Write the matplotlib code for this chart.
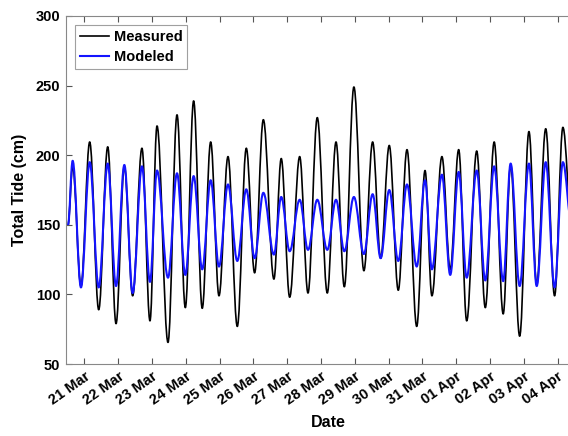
import matplotlib
matplotlib.use("Agg")
import matplotlib.pyplot as plt
import matplotlib.dates as mdates
import matplotlib.transforms as mtransforms
from matplotlib.path import Path
from matplotlib.patches import PathPatch
from matplotlib.lines import Line2D
import pandas as pd
import numpy as np

# Times of extrema (hours from 21 Mar 00:00)
time_h = [-11.7, -8.4, -2.5, 3.7, 10.1, 16.5, 22.4, 28.3, 34.2, 40.8, 46.5,
          51.5, 59.3, 65.7, 71.6, 77.5, 83.6, 89.6, 95.5, 101.9, 108.5,
          114.9, 120.8, 127.0, 134.5, 139.7, 145.7, 152.8, 158.7, 165.3, 172.4,
          178.6, 184.5, 191.3, 198.4, 204.6, 210.3, 216.4, 222.8, 229.0, 235.9,
          241.8, 246.7, 253.8, 259.7, 265.7, 271.4, 278.5, 284.6, 290.9, 297.3,
          302.6, 309.0, 315.6, 321.1, 327.5, 333.8, 339.7, 346.0]

measured = [150, 192, 106, 209.5, 89, 206, 79, 192, 99, 205, 81,
            221, 65.5, 229, 90.5, 239, 90, 209.5, 99, 199, 77,
            205, 115.5, 225.5, 111, 197.6, 98, 199, 101, 227, 101,
            209.5, 105.5, 249, 117, 209.5, 126, 207, 103, 204, 77,
            189, 99, 199, 118, 204, 81, 203, 90.5, 209.5, 86,
            193, 70, 217, 107, 219, 99, 220, 150]

modeled = [150, 196, 105, 195, 105, 194, 106, 193, 101, 192, 109,
           189, 112, 187, 114, 185, 118, 182, 120, 179, 124,
           175.5, 126, 173, 128.6, 170, 131, 168, 132, 168, 132,
           168, 131, 170, 129, 172, 126, 175, 124, 179, 120,
           182, 118, 186, 114, 188, 112, 189, 110, 192, 109.5,
           194, 106, 194, 106, 195, 105, 195, 150]

tick_labels = ['21 Mar', '22 Mar', '23 Mar', '24 Mar', '25 Mar', '26 Mar', '27 Mar',
               '28 Mar', '29 Mar', '30 Mar', '31 Mar', '01 Apr', '02 Apr', '03 Apr', '04 Apr']

base = pd.Timestamp('2019-03-21')
t = base + pd.to_timedelta(time_h, unit='h')
tn = mdates.date2num(t.to_pydatetime())


def smooth_path(x, y):
    """Bezier path through extrema with flat tangents at each extremum."""
    verts = [(x[0], y[0])]
    codes = [Path.MOVETO]
    for i in range(len(x) - 1):
        dx = (x[i + 1] - x[i]) / 3.0 * 1.1
        verts += [(x[i] + dx, y[i]), (x[i + 1] - dx, y[i + 1]), (x[i + 1], y[i + 1])]
        codes += [Path.CURVE4] * 3
    return Path(verts, codes)


plt.rcParams['font.family'] = ['Liberation Sans', 'DejaVu Sans']
fig = plt.figure(figsize=(5.68, 4.36), dpi=100)
ax = fig.add_axes([66/568, 72/436, 524/568, 348/436])

c_meas = 'black'
c_mod = '#1414ff'
ax.add_patch(PathPatch(smooth_path(tn, measured), fill=False, edgecolor=c_meas,
                       lw=1.2, transform=ax.transData, capstyle='round', joinstyle='round'))
ax.add_patch(PathPatch(smooth_path(tn, modeled), fill=False, edgecolor=c_mod,
                       lw=1.5, transform=ax.transData, capstyle='round', joinstyle='round'))
ax.xaxis_date()

ax.set_xlim(base - pd.Timedelta(days=0.547), base + pd.Timedelta(days=14.956))
ax.set_ylim(50, 300)
ax.set_yticks([50, 100, 150, 200, 250, 300])
ticks = [base + pd.Timedelta(days=i) for i in range(len(tick_labels))]
ax.set_xticks(ticks)
ax.set_xticklabels(tick_labels, rotation=35, ha='right', rotation_mode='anchor',
                   fontweight='bold', fontsize=10.5)
offset = mtransforms.ScaledTranslation(5/100, 0, fig.dpi_scale_trans)
for lab in ax.get_xticklabels():
    lab.set_transform(lab.get_transform() + offset)
for lab in ax.get_yticklabels():
    lab.set_fontweight('bold')
    lab.set_fontsize(10.5)

ax.tick_params(direction='in', top=True, right=True, length=4, width=0.8,
               color='#555555', pad=4)
for s in ax.spines.values():
    s.set_color('#888888')
    s.set_linewidth(0.8)

ax.set_xlabel('Date', fontweight='bold', fontsize=11.5, labelpad=5)
ax.set_ylabel('Total Tide (cm)', fontweight='bold', fontsize=11.5, labelpad=6)

handles = [Line2D([], [], color=c_meas, lw=1.2), Line2D([], [], color=c_mod, lw=1.5)]
leg = ax.legend(handles, ['Measured', 'Modeled'], loc='upper left',
                prop={'weight': 'bold', 'size': 10.5},
                frameon=True, fancybox=False, edgecolor='#888888',
                handlelength=2.0, handletextpad=0.3, borderpad=0.35, labelspacing=0.4,
                borderaxespad=0, bbox_to_anchor=(0.017, 0.975))
leg.get_frame().set_linewidth(0.8)

fig.savefig('out.png', dpi=100)
